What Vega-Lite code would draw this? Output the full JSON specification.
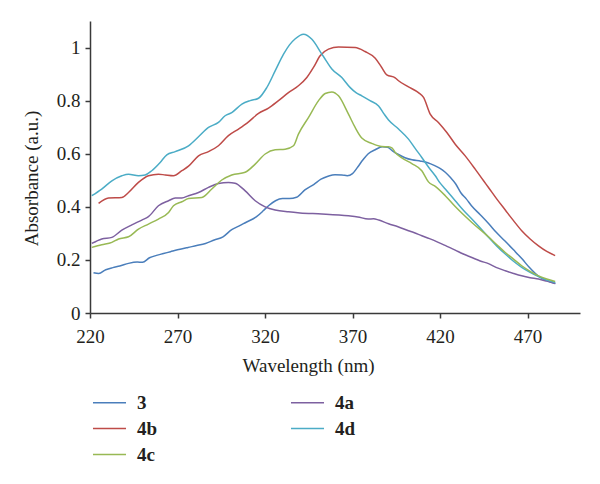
{
  "$schema": "https://vega.github.io/schema/vega-lite/v6.json",
  "width": 490,
  "height": 292,
  "autosize": {"type": "none"},
  "padding": {"left": 90, "top": 21, "right": 20, "bottom": 171},
  "background": "white",
  "data": {"values": [
    {"s": "3", "w": 222, "a": 0.152}, {"s": "3", "w": 225, "a": 0.149}, {"s": "3", "w": 229, "a": 0.163}, {"s": "3", "w": 233, "a": 0.171}, {"s": "3", "w": 237, "a": 0.177},
    {"s": "3", "w": 242, "a": 0.187}, {"s": "3", "w": 247, "a": 0.192}, {"s": "3", "w": 250, "a": 0.191}, {"s": "3", "w": 254, "a": 0.208}, {"s": "3", "w": 258, "a": 0.217},
    {"s": "3", "w": 262, "a": 0.224}, {"s": "3", "w": 266, "a": 0.231}, {"s": "3", "w": 270, "a": 0.238}, {"s": "3", "w": 276, "a": 0.247}, {"s": "3", "w": 281, "a": 0.254},
    {"s": "3", "w": 286, "a": 0.262}, {"s": "3", "w": 291, "a": 0.275}, {"s": "3", "w": 296, "a": 0.287}, {"s": "3", "w": 301, "a": 0.314}, {"s": "3", "w": 305, "a": 0.327},
    {"s": "3", "w": 309, "a": 0.341}, {"s": "3", "w": 315, "a": 0.362}, {"s": "3", "w": 319, "a": 0.385}, {"s": "3", "w": 322, "a": 0.404}, {"s": "3", "w": 326, "a": 0.423},
    {"s": "3", "w": 330, "a": 0.431}, {"s": "3", "w": 334, "a": 0.431}, {"s": "3", "w": 338, "a": 0.436}, {"s": "3", "w": 343, "a": 0.465}, {"s": "3", "w": 348, "a": 0.485},
    {"s": "3", "w": 352, "a": 0.504}, {"s": "3", "w": 356, "a": 0.515}, {"s": "3", "w": 360, "a": 0.521}, {"s": "3", "w": 364, "a": 0.52}, {"s": "3", "w": 367, "a": 0.517},
    {"s": "3", "w": 370, "a": 0.525}, {"s": "3", "w": 373, "a": 0.55}, {"s": "3", "w": 376, "a": 0.577}, {"s": "3", "w": 379, "a": 0.6}, {"s": "3", "w": 383, "a": 0.615},
    {"s": "3", "w": 387, "a": 0.626}, {"s": "3", "w": 390, "a": 0.624}, {"s": "3", "w": 393, "a": 0.61}, {"s": "3", "w": 396, "a": 0.598}, {"s": "3", "w": 400, "a": 0.585},
    {"s": "3", "w": 404, "a": 0.577}, {"s": "3", "w": 409, "a": 0.572}, {"s": "3", "w": 413, "a": 0.566}, {"s": "3", "w": 417, "a": 0.555}, {"s": "3", "w": 420, "a": 0.545},
    {"s": "3", "w": 423, "a": 0.53}, {"s": "3", "w": 426, "a": 0.51}, {"s": "3", "w": 429, "a": 0.486}, {"s": "3", "w": 432, "a": 0.452}, {"s": "3", "w": 435, "a": 0.43},
    {"s": "3", "w": 438, "a": 0.404}, {"s": "3", "w": 443, "a": 0.37}, {"s": "3", "w": 448, "a": 0.335}, {"s": "3", "w": 452, "a": 0.305}, {"s": "3", "w": 457, "a": 0.272},
    {"s": "3", "w": 462, "a": 0.238}, {"s": "3", "w": 467, "a": 0.203}, {"s": "3", "w": 471, "a": 0.172}, {"s": "3", "w": 476, "a": 0.14}, {"s": "3", "w": 481, "a": 0.122},
    {"s": "3", "w": 486, "a": 0.111},

    {"s": "4a", "w": 221, "a": 0.262}, {"s": "4a", "w": 226.7, "a": 0.279}, {"s": "4a", "w": 232.5, "a": 0.285}, {"s": "4a", "w": 238.2, "a": 0.312}, {"s": "4a", "w": 243.9, "a": 0.332},
    {"s": "4a", "w": 249.6, "a": 0.35}, {"s": "4a", "w": 253.4, "a": 0.363}, {"s": "4a", "w": 259.1, "a": 0.404}, {"s": "4a", "w": 264.9, "a": 0.423}, {"s": "4a", "w": 268.7, "a": 0.433},
    {"s": "4a", "w": 272.5, "a": 0.433}, {"s": "4a", "w": 276.3, "a": 0.442}, {"s": "4a", "w": 282, "a": 0.454}, {"s": "4a", "w": 287.7, "a": 0.473}, {"s": "4a", "w": 293.4, "a": 0.488},
    {"s": "4a", "w": 299.1, "a": 0.492}, {"s": "4a", "w": 302.9, "a": 0.489}, {"s": "4a", "w": 308.7, "a": 0.46}, {"s": "4a", "w": 314.4, "a": 0.423}, {"s": "4a", "w": 320.1, "a": 0.4},
    {"s": "4a", "w": 325.8, "a": 0.388}, {"s": "4a", "w": 333.4, "a": 0.381}, {"s": "4a", "w": 340, "a": 0.377}, {"s": "4a", "w": 352.5, "a": 0.373}, {"s": "4a", "w": 367.7, "a": 0.366},
    {"s": "4a", "w": 373, "a": 0.362}, {"s": "4a", "w": 379, "a": 0.354}, {"s": "4a", "w": 382, "a": 0.355}, {"s": "4a", "w": 385, "a": 0.35}, {"s": "4a", "w": 390.6, "a": 0.336},
    {"s": "4a", "w": 396, "a": 0.325}, {"s": "4a", "w": 402, "a": 0.31}, {"s": "4a", "w": 405, "a": 0.303}, {"s": "4a", "w": 409.6, "a": 0.291}, {"s": "4a", "w": 414, "a": 0.28},
    {"s": "4a", "w": 419, "a": 0.266}, {"s": "4a", "w": 424, "a": 0.251}, {"s": "4a", "w": 428.7, "a": 0.237}, {"s": "4a", "w": 433, "a": 0.223}, {"s": "4a", "w": 438.2, "a": 0.209},
    {"s": "4a", "w": 443, "a": 0.196}, {"s": "4a", "w": 447.7, "a": 0.186}, {"s": "4a", "w": 452, "a": 0.172}, {"s": "4a", "w": 457.3, "a": 0.159}, {"s": "4a", "w": 462, "a": 0.149},
    {"s": "4a", "w": 466.7, "a": 0.14}, {"s": "4a", "w": 471.5, "a": 0.133}, {"s": "4a", "w": 476.3, "a": 0.128}, {"s": "4a", "w": 481, "a": 0.12}, {"s": "4a", "w": 485.8, "a": 0.111},

    {"s": "4b", "w": 224.9, "a": 0.413}, {"s": "4b", "w": 230.6, "a": 0.433}, {"s": "4b", "w": 238.2, "a": 0.435}, {"s": "4b", "w": 242, "a": 0.454}, {"s": "4b", "w": 247.7, "a": 0.492},
    {"s": "4b", "w": 253.4, "a": 0.517}, {"s": "4b", "w": 259.1, "a": 0.523}, {"s": "4b", "w": 263, "a": 0.52}, {"s": "4b", "w": 267.7, "a": 0.517}, {"s": "4b", "w": 272.5, "a": 0.536},
    {"s": "4b", "w": 276.3, "a": 0.553}, {"s": "4b", "w": 282, "a": 0.592}, {"s": "4b", "w": 287.7, "a": 0.608}, {"s": "4b", "w": 293.4, "a": 0.63}, {"s": "4b", "w": 299.1, "a": 0.668},
    {"s": "4b", "w": 304.9, "a": 0.693}, {"s": "4b", "w": 310.6, "a": 0.72}, {"s": "4b", "w": 316.3, "a": 0.752}, {"s": "4b", "w": 322, "a": 0.772}, {"s": "4b", "w": 327.7, "a": 0.8},
    {"s": "4b", "w": 333.4, "a": 0.83}, {"s": "4b", "w": 339.1, "a": 0.856}, {"s": "4b", "w": 343.9, "a": 0.887}, {"s": "4b", "w": 347.7, "a": 0.925}, {"s": "4b", "w": 351.5, "a": 0.969},
    {"s": "4b", "w": 356.3, "a": 0.994}, {"s": "4b", "w": 362, "a": 1.002}, {"s": "4b", "w": 371.5, "a": 1.0}, {"s": "4b", "w": 377.2, "a": 0.985}, {"s": "4b", "w": 383, "a": 0.96},
    {"s": "4b", "w": 386.7, "a": 0.925}, {"s": "4b", "w": 389.6, "a": 0.897}, {"s": "4b", "w": 394.4, "a": 0.886}, {"s": "4b", "w": 396.3, "a": 0.875}, {"s": "4b", "w": 402, "a": 0.852},
    {"s": "4b", "w": 407.7, "a": 0.83}, {"s": "4b", "w": 410.6, "a": 0.812}, {"s": "4b", "w": 414.4, "a": 0.749}, {"s": "4b", "w": 419.1, "a": 0.718}, {"s": "4b", "w": 423.9, "a": 0.68},
    {"s": "4b", "w": 428.7, "a": 0.636}, {"s": "4b", "w": 434.4, "a": 0.592}, {"s": "4b", "w": 440.1, "a": 0.542}, {"s": "4b", "w": 444.9, "a": 0.498}, {"s": "4b", "w": 447.7, "a": 0.473},
    {"s": "4b", "w": 452.5, "a": 0.429}, {"s": "4b", "w": 457.3, "a": 0.388}, {"s": "4b", "w": 462, "a": 0.348}, {"s": "4b", "w": 466.7, "a": 0.31}, {"s": "4b", "w": 471.5, "a": 0.279},
    {"s": "4b", "w": 476.3, "a": 0.253}, {"s": "4b", "w": 481, "a": 0.232}, {"s": "4b", "w": 485.8, "a": 0.216},

    {"s": "4d", "w": 221, "a": 0.442}, {"s": "4d", "w": 226.7, "a": 0.467}, {"s": "4d", "w": 232.5, "a": 0.498}, {"s": "4d", "w": 238.2, "a": 0.517}, {"s": "4d", "w": 242, "a": 0.523},
    {"s": "4d", "w": 247.7, "a": 0.517}, {"s": "4d", "w": 251.5, "a": 0.52}, {"s": "4d", "w": 255.3, "a": 0.536}, {"s": "4d", "w": 260.1, "a": 0.567}, {"s": "4d", "w": 263.9, "a": 0.596},
    {"s": "4d", "w": 268.7, "a": 0.608}, {"s": "4d", "w": 276.3, "a": 0.63}, {"s": "4d", "w": 282, "a": 0.664}, {"s": "4d", "w": 287.7, "a": 0.699}, {"s": "4d", "w": 293.4, "a": 0.718},
    {"s": "4d", "w": 297.2, "a": 0.743}, {"s": "4d", "w": 301, "a": 0.755}, {"s": "4d", "w": 306.8, "a": 0.787}, {"s": "4d", "w": 311.5, "a": 0.8}, {"s": "4d", "w": 316.3, "a": 0.809},
    {"s": "4d", "w": 321, "a": 0.849}, {"s": "4d", "w": 325.8, "a": 0.912}, {"s": "4d", "w": 330.6, "a": 0.975}, {"s": "4d", "w": 334, "a": 1.01}, {"s": "4d", "w": 337.3, "a": 1.033},
    {"s": "4d", "w": 342, "a": 1.05}, {"s": "4d", "w": 346.8, "a": 1.031}, {"s": "4d", "w": 352.5, "a": 0.975}, {"s": "4d", "w": 355, "a": 0.95}, {"s": "4d", "w": 358.2, "a": 0.919},
    {"s": "4d", "w": 363.9, "a": 0.887}, {"s": "4d", "w": 368.7, "a": 0.849}, {"s": "4d", "w": 372, "a": 0.83}, {"s": "4d", "w": 375.3, "a": 0.818}, {"s": "4d", "w": 380, "a": 0.8},
    {"s": "4d", "w": 384.9, "a": 0.78}, {"s": "4d", "w": 388, "a": 0.75}, {"s": "4d", "w": 390.6, "a": 0.727}, {"s": "4d", "w": 396.3, "a": 0.693}, {"s": "4d", "w": 402, "a": 0.655},
    {"s": "4d", "w": 405.8, "a": 0.62}, {"s": "4d", "w": 409.6, "a": 0.586}, {"s": "4d", "w": 413.4, "a": 0.55}, {"s": "4d", "w": 417.3, "a": 0.517}, {"s": "4d", "w": 420, "a": 0.49},
    {"s": "4d", "w": 423, "a": 0.467}, {"s": "4d", "w": 428.7, "a": 0.423}, {"s": "4d", "w": 433.5, "a": 0.386}, {"s": "4d", "w": 438.2, "a": 0.354}, {"s": "4d", "w": 443, "a": 0.32},
    {"s": "4d", "w": 447.7, "a": 0.285}, {"s": "4d", "w": 452.5, "a": 0.252}, {"s": "4d", "w": 457.3, "a": 0.222}, {"s": "4d", "w": 462, "a": 0.195}, {"s": "4d", "w": 466.7, "a": 0.172},
    {"s": "4d", "w": 471.5, "a": 0.153}, {"s": "4d", "w": 476.3, "a": 0.137}, {"s": "4d", "w": 481, "a": 0.124}, {"s": "4d", "w": 485.8, "a": 0.115},

    {"s": "4c", "w": 221, "a": 0.247}, {"s": "4c", "w": 226.7, "a": 0.257}, {"s": "4c", "w": 232.5, "a": 0.266}, {"s": "4c", "w": 236.3, "a": 0.279}, {"s": "4c", "w": 242, "a": 0.287},
    {"s": "4c", "w": 247.7, "a": 0.316}, {"s": "4c", "w": 253.4, "a": 0.335}, {"s": "4c", "w": 259.1, "a": 0.354}, {"s": "4c", "w": 264.9, "a": 0.379}, {"s": "4c", "w": 267.7, "a": 0.404},
    {"s": "4c", "w": 272.5, "a": 0.419}, {"s": "4c", "w": 276.3, "a": 0.431}, {"s": "4c", "w": 283.9, "a": 0.435}, {"s": "4c", "w": 289.6, "a": 0.467}, {"s": "4c", "w": 295.3, "a": 0.501},
    {"s": "4c", "w": 301, "a": 0.52}, {"s": "4c", "w": 308.7, "a": 0.53}, {"s": "4c", "w": 314.4, "a": 0.561}, {"s": "4c", "w": 320.1, "a": 0.599}, {"s": "4c", "w": 325.8, "a": 0.615},
    {"s": "4c", "w": 331.5, "a": 0.617}, {"s": "4c", "w": 336.3, "a": 0.63}, {"s": "4c", "w": 339.1, "a": 0.674}, {"s": "4c", "w": 344.9, "a": 0.737}, {"s": "4c", "w": 350.6, "a": 0.8},
    {"s": "4c", "w": 354.4, "a": 0.827}, {"s": "4c", "w": 358.2, "a": 0.833}, {"s": "4c", "w": 362, "a": 0.818}, {"s": "4c", "w": 367.7, "a": 0.749}, {"s": "4c", "w": 371.5, "a": 0.699},
    {"s": "4c", "w": 375.3, "a": 0.659}, {"s": "4c", "w": 381, "a": 0.639}, {"s": "4c", "w": 386.7, "a": 0.627}, {"s": "4c", "w": 390.6, "a": 0.626}, {"s": "4c", "w": 392.5, "a": 0.622},
    {"s": "4c", "w": 394.4, "a": 0.605}, {"s": "4c", "w": 398.2, "a": 0.584}, {"s": "4c", "w": 403.9, "a": 0.563}, {"s": "4c", "w": 409.6, "a": 0.536}, {"s": "4c", "w": 413.4, "a": 0.494},
    {"s": "4c", "w": 417.3, "a": 0.477}, {"s": "4c", "w": 423, "a": 0.442}, {"s": "4c", "w": 428.7, "a": 0.401}, {"s": "4c", "w": 438.2, "a": 0.341}, {"s": "4c", "w": 447.7, "a": 0.287},
    {"s": "4c", "w": 452.5, "a": 0.257}, {"s": "4c", "w": 457.3, "a": 0.228}, {"s": "4c", "w": 462, "a": 0.203}, {"s": "4c", "w": 466.7, "a": 0.178}, {"s": "4c", "w": 471.5, "a": 0.157},
    {"s": "4c", "w": 476.3, "a": 0.14}, {"s": "4c", "w": 481, "a": 0.128}, {"s": "4c", "w": 485.8, "a": 0.119}
  ]},
  "mark": {"type": "line", "interpolate": "monotone", "strokeWidth": 1.5},
  "encoding": {
    "x": {
      "field": "w", "type": "quantitative",
      "scale": {"domain": [220, 500], "nice": false, "zero": false},
      "axis": {
        "values": [220, 270, 320, 370, 420, 470],
        "labelFlush": false,
        "title": "Wavelength (nm)",
        "titleX": 218, "titleY": 58, "titleAlign": "center", "titleBaseline": "alphabetic",
        "labelPadding": 9
      }
    },
    "y": {
      "field": "a", "type": "quantitative",
      "scale": {"domain": [0, 1.1], "nice": false},
      "axis": {
        "values": [0, 0.2, 0.4, 0.6, 0.8, 1],
        "format": ".1~f",
        "labelFlush": false,
        "title": "Absorbance (a.u.)",
        "titleAngle": -90, "titleX": -53, "titleY": 157, "titleAlign": "center", "titleBaseline": "alphabetic",
        "labelPadding": 5
      }
    },
    "color": {
      "field": "s", "type": "nominal",
      "scale": {"domain": ["3", "4b", "4c", "4a", "4d"], "range": ["#4a7ebb", "#be4b48", "#98b954", "#7d60a0", "#4bacc6"]},
      "legend": {
        "title": null, "orient": "none", "legendX": 6, "legendY": 368,
        "columns": 2, "columnPadding": 129, "rowPadding": 2,
        "symbolType": "M-1.3,0H1.3", "symbolSize": 645, "symbolStrokeWidth": 1.5,
        "labelOffset": 14, "labelFontSize": 19, "labelFontWeight": "bold", "labelFont": "Liberation Serif", "labelColor": "#231f20",
        "padding": 0
      }
    }
  },
  "config": {
    "view": {"stroke": null},
    "axis": {
      "grid": false,
      "domainColor": "#3a3a3a", "domainWidth": 1.5,
      "tickColor": "#3a3a3a", "tickWidth": 1.5, "tickSize": 5,
      "labelFont": "Liberation Serif", "labelFontSize": 19, "labelColor": "#231f20",
      "titleFont": "Liberation Serif", "titleFontSize": 19, "titleFontWeight": "normal", "titleColor": "#231f20"
    }
  }
}
